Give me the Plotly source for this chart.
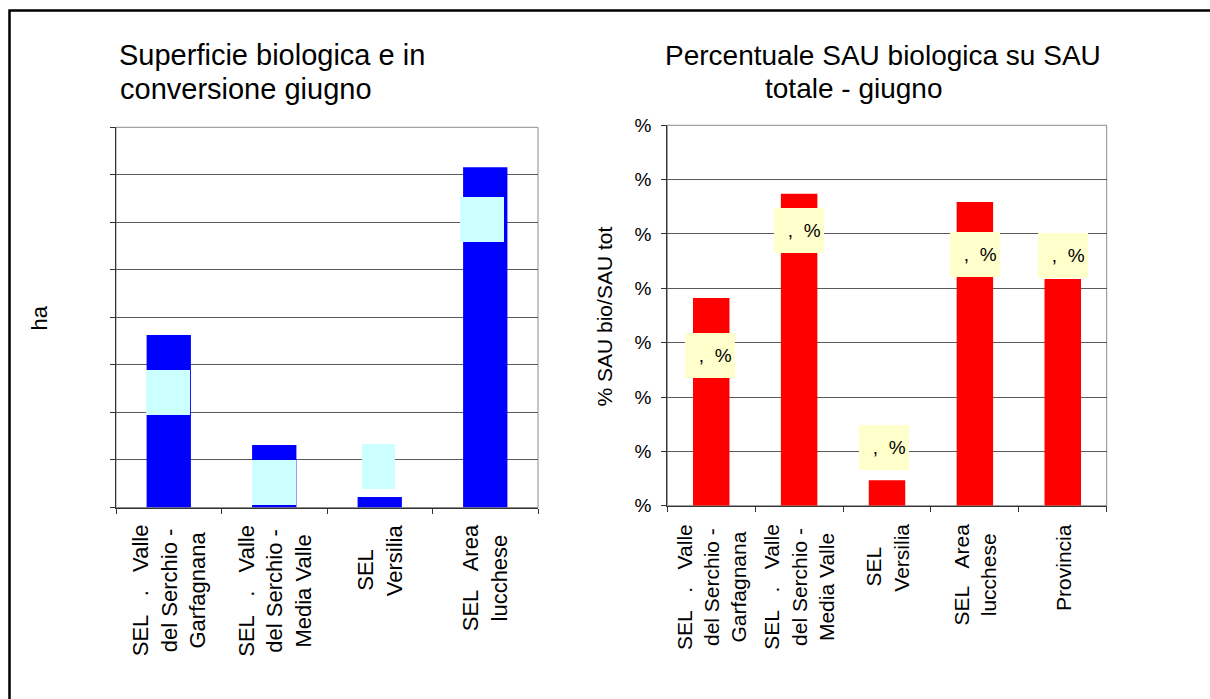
import plotly.graph_objects as go

# ---------------- data ----------------
left_categories = ["SEL   .   Valle|del Serchio -|Garfagnana",
                   "SEL   .   Valle|del Serchio -|Media Valle",
                   "SEL   |Versilia",
                   "SEL   Area|lucchese"]
left_values = [3630, 1315, 220, 7160]          # ha

right_categories = ["SEL   .   Valle|del Serchio -|Garfagnana",
                    "SEL   .   Valle|del Serchio -|Media Valle",
                    "SEL   |Versilia",
                    "SEL   Area|lucchese",
                    "Provincia"]
right_values = [3.82, 5.74, 0.47, 5.59, 4.17]  # % SAU bio / SAU tot
right_label_text = ["  ,  %"] * 5

left_yticks = [0, 1000, 2000, 3000, 4000, 5000, 6000, 7000, 8000]
right_yticks = [0, 1, 2, 3, 4, 5, 6, 7]
right_yticktext = ["%"] * 8

# ---------------- styles / layout ----------------
W, H = 1210, 699
FONT = "Liberation Sans, Arial, sans-serif"
def px(x): return x / W
def py(y): return 1 - y / H
def nb(s): return s.replace(" ", "\u00a0")

# label box offsets (px) relative to bar tops: (dx, dy)
left_label_off = [(-1, -58), (0, -38), (-1, 31), (-3, -52)]
left_label_w = [44, 44, 33, 44]
right_label_off = [(-1, -57), (0, -37), (-3, 33), (0, -53), (0, 24)]

fig = go.Figure()
fig.add_trace(go.Bar(x=left_categories, y=left_values, width=0.42,
                     marker=dict(color="#0000FF", line=dict(width=0)),
                     xaxis="x", yaxis="y", showlegend=False, hoverinfo="skip"))
fig.add_trace(go.Bar(x=right_categories, y=right_values, width=0.415,
                     marker=dict(color="#FF0000", line=dict(width=0)),
                     xaxis="x2", yaxis="y2", showlegend=False, hoverinfo="skip"))

grid = "#5a5a5a"
axis_common = dict(showline=True, linecolor="#333333", linewidth=1, zeroline=False,
                   ticks="outside", tickcolor="#333333", ticklen=5, tickwidth=1)

fig.update_layout(
    width=W, height=H, margin=dict(l=0, r=0, t=0, b=0, pad=0, autoexpand=False),
    paper_bgcolor="white", plot_bgcolor="white",
    font=dict(family=FONT, color="black"),
    xaxis=dict(domain=[px(116), px(538)], range=[-0.5, 3.5], type="category",
               tickson="boundaries", showticklabels=False, showgrid=False,
               anchor="y", **axis_common),
    yaxis=dict(domain=[py(507.5), py(127.3)], range=[0, 8000], tickvals=left_yticks,
               showticklabels=False, showgrid=True, gridcolor=grid, gridwidth=1,
               anchor="x", **axis_common),
    xaxis2=dict(domain=[px(667.3), px(1106.7)], range=[-0.5, 4.5], type="category",
                tickson="boundaries", showticklabels=False, showgrid=False,
                anchor="y2", **axis_common),
    yaxis2=dict(domain=[py(505.7), py(125.3)], range=[0, 7], tickvals=right_yticks,
                ticktext=right_yticktext, tickfont=dict(size=19, family=FONT),
                ticklabelstandoff=6,
                showgrid=True, gridcolor=grid, gridwidth=1, anchor="x2", **axis_common),
    bargap=0.5,
)

shapes = [
    # outer chart border (cut by image edges)
    dict(type="rect", xref="paper", yref="paper", x0=px(9.5), x1=1.05, y0=-0.05, y1=py(10.5),
         line=dict(color="black", width=2.5), layer="above"),
    # plot area frames
    dict(type="rect", xref="x domain", yref="y domain", x0=0, x1=1, y0=0, y1=1,
         line=dict(color="#8a8a8a", width=1), layer="below"),
    dict(type="rect", xref="x2 domain", yref="y2 domain", x0=0, x1=1, y0=0, y1=1,
         line=dict(color="#8a8a8a", width=1), layer="below"),
]
fig.update_layout(shapes=shapes)

ann = []
# titles
ann.append(dict(text="Superficie biologica e in", x=px(117), y=py(55.5), xref="paper", yref="paper",
                xanchor="left", yanchor="middle", showarrow=False, font=dict(size=29, family=FONT)))
ann.append(dict(text="conversione giugno", x=px(118), y=py(89.5), xref="paper", yref="paper",
                xanchor="left", yanchor="middle", showarrow=False, font=dict(size=29, family=FONT)))
ann.append(dict(text="Percentuale SAU biologica su SAU", x=px(663), y=py(55.5), xref="paper", yref="paper",
                xanchor="left", yanchor="middle", showarrow=False, font=dict(size=28, family=FONT)))
ann.append(dict(text="totale - giugno", x=px(763), y=py(89), xref="paper", yref="paper",
                xanchor="left", yanchor="middle", showarrow=False, font=dict(size=28, family=FONT)))
# axis titles
ann.append(dict(text="ha", x=px(38.5), y=py(318), xref="paper", yref="paper", textangle=-90,
                xanchor="center", yanchor="middle", showarrow=False, font=dict(size=22, family=FONT)))
ann.append(dict(text="% SAU bio/SAU tot", x=px(604), y=py(316.5), xref="paper", yref="paper",
                textangle=-90, xanchor="center", yanchor="middle", showarrow=False,
                font=dict(size=21, family=FONT)))

# category labels (rotated, centered lines)
for c in left_categories:
    ann.append(dict(text="<br>".join(nb(s) for s in c.split("|")), x=c, xref="x",
                    y=py(507.5), yref="paper", yanchor="top", xanchor="center", yshift=-15,
                    textangle=-90, align="center", showarrow=False,
                    font=dict(size=22, family=FONT)))
for c in right_categories:
    ann.append(dict(text="<br>".join(nb(s) for s in c.split("|")), x=c, xref="x2",
                    y=py(505.7), yref="paper", yanchor="top", xanchor="center", yshift=-16,
                    textangle=-90, align="center", showarrow=False,
                    font=dict(size=21, family=FONT)))

# data label boxes
for c, v, (dx, dy), w in zip(left_categories, left_values, left_label_off, left_label_w):
    ann.append(dict(text="\u00a0", x=c, y=v, xref="x", yref="y", xshift=dx, yshift=dy,
                    width=w, height=45, bgcolor="#CCFFFF", borderpad=0, borderwidth=0,
                    showarrow=False, font=dict(size=19, family=FONT)))
for c, v, (dx, dy), t in zip(right_categories, right_values, right_label_off, right_label_text):
    ann.append(dict(text=nb(t), x=c, y=v, xref="x2", yref="y2", xshift=dx, yshift=dy,
                    width=50, height=45, bgcolor="#FFFFCC", borderpad=0, borderwidth=0,
                    align="center", valign="middle",
                    showarrow=False, font=dict(size=19, family=FONT)))

fig.update_layout(annotations=ann)
fig.write_html("out.html", config={"displayModeBar": False},
               post_script="document.body.style.margin='0px';document.body.style.overflow='hidden';")
